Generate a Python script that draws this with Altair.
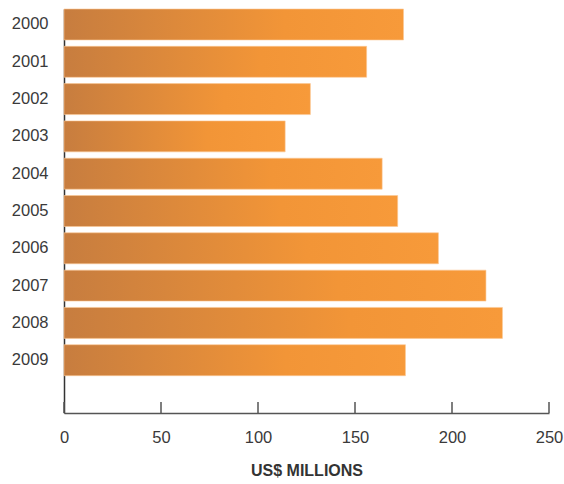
import altair as alt
import pandas as pd

years = ["2000", "2001", "2002", "2003", "2004", "2005", "2006", "2007", "2008", "2009"]
values = [175, 156, 127, 114, 164, 172, 193, 217.5, 226, 176]
tick_values = [0, 50, 100, 150, 200, 250]

domain = years + [" "]

df = pd.DataFrame({"year": years, "value": values})
ticks = pd.DataFrame({"t": tick_values})

W, H = 485, 404

x_scale = alt.Scale(domain=[0, 250], nice=False, zero=True)
y_scale = alt.Scale(domain=domain, paddingInner=0.17, paddingOuter=0)

bars = alt.Chart(df).mark_bar(
    color=alt.Gradient(
        gradient="linear",
        x1=0, x2=1, y1=0, y2=0,
        stops=[
            alt.GradientStop(color="#C77D3F", offset=0),
            alt.GradientStop(color="#F29537", offset=0.65),
            alt.GradientStop(color="#F79A3A", offset=1),
        ],
    ),
    stroke="#FBC794",
    strokeWidth=0.6,
).encode(
    x=alt.X("value:Q", scale=x_scale,
            axis=alt.Axis(values=tick_values, title="US$ MILLIONS", grid=False,
                          ticks=False, domainColor="#555555", domainWidth=1.5,
                          labelFlush=False, labelOverlap=False,
                          labelFont="Liberation Sans", labelFontSize=16.5, labelColor="#3a3a3a",
                          labelPadding=16,
                          titleFont="Liberation Sans", titleFontSize=16, titleFontWeight="bold",
                          titleColor="#333333", titlePadding=17)),
    y=alt.Y("year:N", scale=y_scale, sort=domain,
            axis=alt.Axis(title=None, ticks=False, domainColor="#333333", domainWidth=1.5,
                          labelFont="Liberation Sans", labelFontSize=16.5, labelColor="#3a3a3a",
                          labelPadding=16)),
)

tick_rules = alt.Chart(ticks).mark_rule(color="#555555", strokeWidth=1.5).encode(
    x=alt.X("t:Q", scale=x_scale),
    y=alt.value(H - 11),
    y2=alt.value(H),
)

chart = alt.layer(bars, tick_rules).properties(
    width=W,
    height=H,
    autosize=alt.AutoSizeParams(type="none"),
    padding={"left": 64, "top": 9, "right": 15, "bottom": 71},
).configure_view(stroke=None)

chart.save("out.html", embed_options={"renderer": "svg", "actions": False})
